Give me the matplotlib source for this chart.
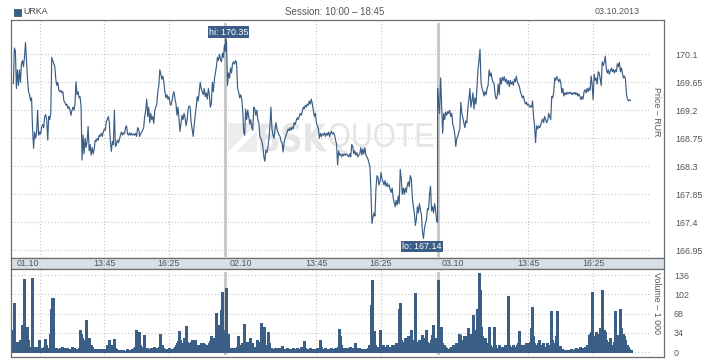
import numpy as np
import matplotlib
matplotlib.use("Agg")
import matplotlib.pyplot as plt
from matplotlib.patches import Rectangle, PathPatch, Polygon
from matplotlib.textpath import TextPath
from matplotlib.font_manager import FontProperties
from matplotlib.transforms import Affine2D, IdentityTransform

plt.rcParams['font.family'] = ['Liberation Sans', 'DejaVu Sans']

# ---- data: URKA intraday, 2.5 minute steps, session 10:00 - 18:45 ----
STEP = 2.5
SESSION = 525

day1_price = [
    169.63, 170.2, 170.15, 169.55, 169.85, 169.6, 169.85, 169.65, 169.95, 170.0,
    169.9, 170.05, 170.29, 170.0, 169.7, 169.5, 169.45, 169.35, 169.4, 168.9,
    168.59, 168.85, 168.75, 168.85, 169.2, 168.8, 168.85, 168.82, 168.93, 168.97,
    168.92, 169.1, 169.13, 169.05, 168.72, 169.1, 169.05, 169.15, 170.05, 170.0,
    169.95, 169.9, 169.7, 169.6, 169.65, 169.52, 169.5, 169.52, 169.48, 169.5,
    169.35, 169.33, 169.28, 169.3, 169.23, 169.26, 169.2, 169.12, 169.2, 169.25,
    169.2, 169.3, 169.66, 169.45, 169.5, 169.4, 169.42, 169.26, 168.4, 168.8,
    168.5, 168.75, 168.6, 168.7, 168.94, 168.55, 168.65, 168.48, 168.6, 168.5,
    168.58, 168.72, 168.7, 168.75, 168.72, 168.8, 168.78, 168.83, 168.78, 168.85,
    168.9, 168.88, 169.02, 169.05, 169.1, 169.0, 168.7, 168.54, 168.7, 168.65,
    169.2, 168.62, 168.65, 168.72, 168.68, 168.73, 168.8, 168.85, 168.8, 168.84,
    168.82, 168.92, 168.95, 168.82, 168.8, 168.84, 168.8, 168.83, 168.8, 168.82,
    168.8, 168.83, 168.78, 168.92, 168.9, 168.78, 168.82, 168.85, 168.88, 168.92,
    169.1, 169.2, 169.38, 169.1, 169.25, 169.0, 169.15, 169.05, 169.1, 168.99,
    169.2, 169.25, 169.3, 169.5, 169.6, 169.85, 169.78, 169.7, 169.75, 169.65,
    169.5, 169.4, 169.45, 169.38, 169.42, 169.32, 169.28, 169.35, 169.45, 169.5,
    169.38, 169.3, 169.12, 169.25, 169.05, 168.86, 169.0, 169.12, 169.05, 169.15,
    169.08, 168.95, 169.05, 169.22, 169.27, 169.25, 169.0, 168.9, 168.78, 168.95,
    169.12, 169.25, 169.42, 169.35, 169.5, 169.65, 169.55, 169.5, 169.45, 169.55,
    169.42, 169.48, 169.38, 169.55, 169.45, 169.25, 169.3, 169.65, 169.5, 169.7,
    169.8, 169.9, 170.05, 170.0, 170.1, 170.02, 169.98, 170.12, 170.05, 170.25, 170.15,
]

day2_price = [
    170.35, 170.3, 169.6, 169.8, 169.72, 169.88, 169.8, 169.95, 169.98, 169.94,
    170.0, 169.96, 169.55, 169.5, 169.4, 169.45, 169.38, 169.22, 168.85, 168.8,
    169.22, 169.05, 169.2, 169.1, 168.98, 169.05, 168.92, 168.88, 169.25, 169.22,
    169.12, 169.2, 169.05, 169.0, 168.78, 168.75, 168.7, 168.62, 168.45, 168.38,
    168.56, 168.52, 168.6, 168.75, 168.95, 169.25, 168.9, 168.8, 168.75, 168.9,
    169.0, 168.9, 168.85, 168.8, 168.78, 168.7, 168.68, 168.53, 168.68, 168.75,
    168.8, 168.85, 168.9, 168.87, 168.92, 168.88, 168.93, 168.9, 169.0, 168.97,
    169.03, 169.08, 169.05, 169.1, 169.15, 169.12, 169.18, 169.25, 169.22, 169.28,
    169.25, 169.3, 169.28, 169.35, 169.3, 169.38, 169.3, 169.2, 169.1, 169.15,
    169.0, 168.95, 168.9, 168.75, 168.83, 168.78, 168.82, 168.8, 168.84, 168.78,
    168.83, 168.8, 168.85, 168.78, 168.83, 168.86, 168.82, 168.84, 168.8, 168.72,
    168.65, 168.32, 168.55, 168.48, 168.5, 168.45, 168.5, 168.47, 168.5, 168.48,
    168.5, 168.47, 168.45, 168.5, 168.45, 168.65, 168.62, 168.5, 168.55, 168.48,
    168.52, 168.45, 168.48, 168.5, 168.6, 168.48, 168.58, 168.5, 168.6, 168.48,
    168.45, 168.42, 168.35, 168.3, 167.9, 167.38, 167.48, 167.55, 167.5, 167.95,
    168.15, 168.12, 168.0, 168.05, 168.2, 168.1, 168.05, 168.0, 168.07, 167.98,
    168.03, 167.97, 168.0, 167.93, 167.88, 167.95, 167.8, 167.72, 167.65, 167.75,
    167.68, 167.82, 167.7, 168.25, 168.1, 167.85, 167.95, 167.85, 167.95, 167.88,
    168.0, 168.05, 167.97, 168.15, 168.1, 167.8, 167.65, 167.55, 167.35, 167.45,
    167.65, 167.55, 167.7, 167.6, 167.52, 167.25, 167.14, 167.3, 167.38, 167.45,
    167.62, 167.6, 167.85, 167.98, 167.58, 167.65, 167.55, 167.7, 167.6, 167.42, 167.4,
]

day3_price = [
    169.55, 169.3, 169.15, 169.72, 169.28, 168.83, 169.15, 169.05, 169.17, 169.12,
    169.18, 169.15, 169.2, 169.1, 169.15, 168.98, 168.92, 168.82, 168.62, 168.75,
    168.78, 168.85, 168.9, 169.33, 169.15, 169.08, 169.0, 168.92, 169.03, 169.0,
    169.25, 169.38, 169.55, 169.25, 169.35, 169.48, 169.22, 169.4, 169.3, 169.58,
    169.85, 170.0, 170.18, 169.65, 169.55, 169.5, 169.43, 169.5, 169.45, 169.55,
    169.6, 169.85, 169.75, 169.8, 169.7, 169.65, 169.62, 169.45, 169.38, 169.42,
    169.62, 169.45, 169.72, 169.62, 169.73, 169.68, 169.74, 169.66, 169.7, 169.62,
    169.68, 169.58, 169.68, 169.62, 169.66, 169.6, 169.7, 169.66, 169.75, 169.65,
    169.62, 169.58, 169.5, 169.45, 169.4, 169.43, 169.35, 169.3, 169.33, 169.28,
    169.3, 169.25, 169.27, 169.25, 169.35, 169.1, 168.95, 168.68, 168.95, 168.9,
    168.95, 168.92, 168.96, 169.02, 169.06, 169.0, 169.1, 169.05, 169.0, 169.04,
    169.15, 169.1, 169.05, 169.42, 169.4, 169.5, 169.72, 169.68, 169.74, 169.7,
    169.66, 169.7, 169.64, 169.48, 169.55, 169.43, 169.48, 169.45, 169.49, 169.46,
    169.49, 169.47, 169.49, 169.45, 169.48, 169.46, 169.49, 169.45, 169.48, 169.43,
    169.46, 169.42, 169.37, 169.42, 169.38, 169.5, 169.53, 169.48, 169.55, 169.5,
    169.56, 169.52, 169.75, 169.62, 169.37, 169.78, 169.68, 169.72, 169.62, 169.82,
    169.8, 169.7, 169.6, 169.98, 169.92, 169.97, 170.07, 169.88, 169.8, 169.85,
    169.78, 169.83, 169.88, 169.82, 169.86, 169.8, 169.85, 169.82, 169.95, 169.9,
    169.97, 169.82, 169.88, 169.8, 169.72, 169.75, 169.7, 169.45, 169.38, 169.35,
    169.37, 169.36,
]

# volume, thousands
day1_vol = [
    39, 86, 12, 19, 18, 16, 4, 22, 8, 48,
    25, 129, 30, 45, 22, 10, 6, 7, 130, 8,
    10, 7, 5, 10, 8, 22, 4, 5, 7, 7,
    10, 23, 12, 7, 5, 7, 33, 76, 95, 95,
    7, 5, 8, 5, 6, 4, 8, 6, 10, 4,
    7, 5, 4, 8, 3, 5, 6, 4, 10, 5,
    7, 4, 6, 5, 3, 8, 39, 33, 25, 22,
    10, 16, 56, 13, 8, 25, 10, 13, 10, 5,
    4, 6, 4, 3, 5, 4, 3, 5, 4, 6,
    3, 4, 5, 13, 8, 22, 10, 13, 6, 8,
    23, 7, 5, 3, 4, 3, 2, 4, 3, 4,
    2, 3, 5, 3, 4, 2, 3, 6, 4, 8,
    10, 40, 12, 16, 36, 13, 10, 10, 7, 30,
    8, 5, 7, 4, 6, 5, 7, 4, 6, 10,
    5, 7, 4, 8, 10, 32, 10, 13, 8, 5,
    4, 6, 3, 4, 7, 5, 4, 6, 5, 8,
    10, 13, 16, 20, 37, 22, 13, 10, 16, 26,
    18, 46, 19, 12, 13, 16, 19, 22, 13, 10,
    22, 10, 13, 13, 10, 13, 16, 12, 16, 14,
    10, 13, 8, 10, 16, 20, 29, 16, 19, 25,
    22, 69, 22, 48, 40, 30, 75, 106, 22, 30, 40,
]

day2_vol = [
    30, 113, 33, 7, 5, 8, 4, 6, 7, 5,
    8, 10, 29, 13, 8, 10, 16, 13, 50, 16,
    13, 19, 10, 8, 25, 16, 16, 10, 8, 6,
    10, 22, 8, 10, 19, 52, 16, 13, 44, 13,
    8, 10, 36, 16, 8, 7, 5, 6, 4, 7,
    5, 8, 4, 6, 8, 5, 11, 4, 6, 3,
    5, 7, 4, 6, 5, 3, 5, 7, 4, 6,
    5, 8, 4, 6, 5, 10, 8, 10, 20, 8,
    5, 4, 6, 5, 7, 4, 6, 5, 4, 6,
    5, 7, 4, 8, 22, 10, 6, 5, 4, 7,
    5, 6, 4, 5, 7, 4, 6, 5, 7, 8,
    6, 10, 41, 28, 13, 8, 6, 7, 5, 8,
    6, 5, 7, 10, 6, 8, 5, 7, 16, 8,
    6, 5, 7, 6, 4, 5, 6, 4, 5, 6,
    4, 7, 13, 10, 83, 128, 10, 37, 13, 10,
    8, 10, 7, 39, 10, 7, 13, 8, 10, 6,
    13, 8, 10, 6, 8, 13, 13, 8, 10, 16,
    10, 13, 77, 87, 22, 16, 19, 13, 25, 16,
    10, 28, 25, 16, 39, 13, 16, 22, 104, 19,
    16, 13, 22, 16, 19, 30, 25, 13, 16, 39,
    19, 16, 13, 22, 30, 48, 22, 26, 20, 16, 13,
]

day3_vol = [
    127, 16, 39, 44, 16, 13, 13, 10, 7, 5,
    4, 6, 7, 10, 10, 13, 10, 8, 16, 13,
    13, 33, 30, 22, 16, 22, 28, 28, 19, 22,
    42, 30, 33, 30, 28, 66, 30, 35, 39, 76,
    48, 139, 109, 45, 28, 16, 22, 25, 16, 13,
    10, 45, 13, 10, 8, 10, 45, 13, 8, 5,
    8, 13, 10, 8, 10, 8, 10, 13, 6, 10,
    99, 13, 10, 8, 10, 13, 8, 10, 6, 13,
    16, 37, 10, 8, 13, 10, 8, 13, 16, 13,
    16, 19, 42, 79, 28, 16, 13, 13, 10, 16,
    22, 13, 10, 8, 16, 10, 7, 10, 16, 13,
    10, 8, 73, 22, 13, 10, 16, 28, 73, 10,
    10, 11, 6, 5, 4, 3, 4, 3, 4, 3,
    4, 3, 5, 3, 4, 3, 5, 7, 5, 5,
    4, 10, 7, 5, 7, 8, 10, 8, 13, 13,
    30, 33, 36, 107, 29, 28, 22, 36, 33, 22,
    28, 42, 28, 109, 28, 39, 36, 22, 19, 16,
    13, 25, 13, 10, 13, 19, 72, 30, 22, 22,
    30, 77, 42, 33, 33, 28, 22, 13, 13, 10,
    5, 4,
]

day_labels = ["01.10", "02.10", "03.10"]
time_labels = ["13:45", "16:25"]
time_ticks = [225, 385]          # minutes after 10:00
price_levels = [166.95, 167.4, 167.85, 168.3, 168.75, 169.2, 169.65, 170.1]
vol_levels = [0, 34, 68, 102, 136]

# ---- assemble ----
days_p = [day1_price, day2_price, day3_price]
days_v = [day1_vol, day2_vol, day3_vol]
t = np.concatenate([d * SESSION + np.arange(len(p)) * STEP for d, p in enumerate(days_p)])
price = np.concatenate(days_p)
vol = np.concatenate(days_v)

BLUE = '#3b5e86'
GRID = '#c4c4c4'
FRAME = '#6e6e6e'
TXT = '#555555'
FS = 6.4

W, H = 718, 360
fig = plt.figure(figsize=(W / 100, H / 100), dpi=100)


def box(x0, y0, x1, y1):
    return [x0 / W, 1 - y1 / H, (x1 - x0) / W, (y1 - y0) / H]


ax = fig.add_axes(box(11, 20, 664, 258))
band = fig.add_axes(box(11, 258, 664, 269))
axv = fig.add_axes(box(11, 269, 664, 357))

XMIN, XMAX = -5.9, 1610.4
GRID_END = 1576

for a in (ax, band, axv):
    a.set_xlim(XMIN, XMAX)
    a.set_xticks([])
    for s in a.spines.values():
        s.set_color(FRAME)
        s.set_linewidth(0.9)

vgrid = [66.6] + [d * SESSION + tt for d in range(3) for tt in time_ticks]

# price panel
ax.set_ylim(166.826, 170.651)
for lv in price_levels:
    ax.hlines(lv, XMIN, GRID_END, colors=GRID, linestyles=(0, (1, 2)), linewidth=0.8, zorder=0)
for x in vgrid:
    ax.axvline(x, color=GRID, linestyle=(0, (1, 2)), linewidth=0.8, zorder=0)
for d in (1, 2):
    ax.axvline(d * SESSION, ymin=0.013, ymax=0.983, color='#c8c8c8', linewidth=2.2, zorder=1)
ax.plot(t, price, color=BLUE, linewidth=0.85, zorder=3)
ax.yaxis.tick_right()
ax.set_yticks(price_levels)
ax.set_yticklabels([f"{v:g}" for v in price_levels])
ax.tick_params(axis='y', length=0, pad=7.9, labelsize=FS, labelcolor=TXT)


# watermark
def fit_text(s, x0, y0, x1, y1, color, weight, family='DejaVu Sans'):
    tp = TextPath((0, 0), s, size=1, prop=FontProperties(family=family, weight=weight))
    ext = tp.get_extents()
    tr = (Affine2D().translate(-ext.x0, -ext.y0)
          .scale((x1 - x0) / ext.width, (y1 - y0) / ext.height)
          .translate(x0, H - y1))
    ax.add_artist(PathPatch(tr.transform_path(tp), facecolor=color, edgecolor='none',
                            transform=IdentityTransform(), zorder=0.5))


ax.add_artist(Polygon([(228, H - 152), (257, H - 152), (257, H - 123), (228, H - 123)],
                      closed=True, facecolor='#ececec', edgecolor='none',
                      transform=IdentityTransform(), zorder=0.5))
ax.add_artist(Polygon([(228, H - 152), (236, H - 152), (257, H - 131), (257, H - 123)],
                      closed=True, facecolor='white', edgecolor='none',
                      transform=IdentityTransform(), zorder=0.6))
fit_text("BSK", 260, 123, 327, 152, '#e6e6e6', 'bold')
fit_text("QUOTE", 329, 123, 433, 153, '#e4e4e4', 'light', family='Liberation Sans')

# hi / lo markers
i_hi = int(np.argmax(price))
i_lo = int(np.argmin(price))
lab_box = dict(boxstyle='square,pad=0.12', fc=BLUE, ec='none')
ax.annotate(f"hi: {price[i_hi]:.2f}", xy=(t[i_hi], price[i_hi]), xytext=(3, 6.7),
            textcoords='offset pixels', ha='center', va='center', color='white',
            fontsize=FS, bbox=lab_box, zorder=5)
ax.annotate(f"lo: {price[i_lo]:.2f}", xy=(t[i_lo], price[i_lo]), xytext=(-1.5, -8.2),
            textcoords='offset pixels', ha='center', va='center', color='white',
            fontsize=FS, bbox=lab_box, zorder=5)

# date band
band.set_facecolor('#d7dfe7')
band.set_yticks([])
band.set_ylim(0, 1)
for d in range(3):
    band.text(d * SESSION + 37, 0.5, day_labels[d], ha='center', va='center',
              fontsize=FS, color=TXT)
    for tt, lb in zip(time_ticks, time_labels):
        band.text(d * SESSION + tt, 0.5, lb, ha='center', va='center', fontsize=FS, color=TXT)

# volume panel
axv.set_ylim(-8.27, 146.6)
for lv in vol_levels:
    axv.hlines(lv, XMIN, GRID_END, colors=GRID, linestyles=(0, (1, 2)), linewidth=0.8, zorder=0)
for x in vgrid:
    axv.axvline(x, color=GRID, linestyle=(0, (1, 2)), linewidth=0.8, zorder=0)
for d in (1, 2):
    axv.axvline(d * SESSION, ymin=0.045, ymax=0.955, color='#c8c8c8', linewidth=2.2, zorder=1)
axv.vlines(t, 0, vol, colors=BLUE, linewidth=0.75, antialiased=False, zorder=3)
axv.yaxis.tick_right()
axv.set_yticks(vol_levels)
axv.set_yticklabels([str(v) for v in vol_levels])
axv.tick_params(axis='y', length=0, pad=7.2, labelsize=FS, labelcolor=TXT)

# axis titles inside the frame
fig.text(656.5 / W, 1 - 112 / H, "Price – RUR", rotation=270, ha='center', va='center',
         fontsize=FS, color=TXT)
fig.text(656.5 / W, 1 - 303 / H, "Volume – 1 000", rotation=270, ha='center', va='center',
         fontsize=FS, color=TXT)

# header
fig.add_artist(Rectangle((14 / W, 1 - 15.7 / H), 7 / W, 7 / H, transform=fig.transFigure,
                         facecolor=BLUE, edgecolor='#2c4766', linewidth=0.5))
fig.text(23.5 / W, 1 - 12 / H, "URKA", ha='left', va='center', fontsize=FS, color='#444444')
fig.text(335 / W, 1 - 12 / H, "Session: 10:00 – 18:45", ha='center', va='center',
         fontsize=7, color=TXT)
fig.text(640 / W, 1 - 12 / H, "03.10.2013", ha='right', va='center', fontsize=FS, color=TXT)

fig.savefig("out.png", dpi=100, facecolor='white')
